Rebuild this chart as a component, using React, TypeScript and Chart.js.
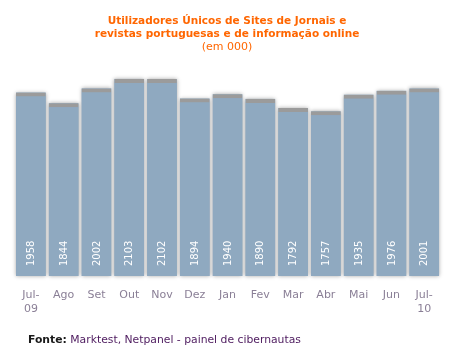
import React, { useEffect, useRef } from "react";
import { Chart, registerables } from "chart.js";

Chart.register(...registerables);

const months: (string | string[])[] = [["Jul-", "09"], "Ago", "Set", "Out", "Nov", "Dez", "Jan", "Fev", "Mar", "Abr", "Mai", "Jun", ["Jul-", "10"]];
const visitors: number[] = [1958, 1844, 2002, 2103, 2102, 1894, 1940, 1890, 1792, 1757, 1935, 1976, 2001];
const titleLines: string[] = ["Utilizadores Únicos de Sites de Jornais e", "revistas portuguesas e de informação online"];
const subtitleText = "(em 000)";
const sourceLabel = "Fonte:";
const sourceText = " Marktest, Netpanel - painel de cibernautas";

const BAR_COLOR = "#8fa9c0";
const CAP_COLOR = "#9b9b9b";
const ORANGE = "#ff6600";

const decorPlugin = {
  id: "decor",
  beforeDatasetsDraw(chart: any) {
    const ctx = chart.ctx;
    const meta = chart.getDatasetMeta(0);
    ctx.save();
    ctx.shadowColor = "rgba(0,0,0,0.35)";
    ctx.shadowBlur = 4;
    ctx.fillStyle = BAR_COLOR;
    meta.data.forEach((el: any) => {
      const p = el.getProps(["x", "y", "base", "width"], true);
      ctx.fillRect(p.x - p.width / 2, p.y, p.width, p.base - p.y);
    });
    ctx.restore();
  },
  afterDatasetsDraw(chart: any) {
    const ctx = chart.ctx;
    const meta = chart.getDatasetMeta(0);
    ctx.save();
    ctx.fillStyle = "#ffffff";
    ctx.font = "10px 'DejaVu Sans'";
    ctx.textAlign = "left";
    ctx.textBaseline = "middle";
    meta.data.forEach((el: any, i: number) => {
      const p = el.getProps(["x", "base"], true);
      ctx.save();
      ctx.translate(p.x + 0.5, p.base - 10);
      ctx.rotate(-Math.PI / 2);
      ctx.fillText(String(visitors[i]), 0, 0);
      ctx.restore();
    });
    ctx.restore();
  },
  afterDraw(chart: any) {
    const ctx = chart.ctx;
    const cx = 227;
    ctx.save();
    ctx.fillStyle = ORANGE;
    ctx.textAlign = "center";
    ctx.textBaseline = "alphabetic";
    ctx.font = "bold 10.5px 'DejaVu Sans'";
    ctx.fillText(titleLines[0], cx, 24);
    ctx.fillText(titleLines[1], cx, 37);
    ctx.font = "11px 'DejaVu Sans'";
    ctx.fillText(subtitleText, cx, 50);
    // source line
    ctx.textAlign = "left";
    ctx.font = "bold 10.8px 'DejaVu Sans'";
    const x0 = 28;
    const y0 = 343;
    ctx.fillStyle = "#1a1a1a";
    ctx.fillText(sourceLabel, x0, y0);
    const w = ctx.measureText(sourceLabel).width;
    ctx.font = "10.8px 'DejaVu Sans'";
    ctx.fillStyle = "#4d1a5e";
    ctx.fillText(sourceText, x0 + w, y0);
    ctx.restore();
  },
};

export default function App() {
  const ref = useRef<HTMLCanvasElement>(null);
  useEffect(() => {
    if (!ref.current) return;
    const chart = new Chart(ref.current, {
      type: "bar",
      data: {
        labels: months,
        datasets: [
          {
            data: visitors,
            backgroundColor: BAR_COLOR,
            borderColor: CAP_COLOR,
            borderWidth: { top: 4, left: 0, right: 0, bottom: 0 },
            borderSkipped: "bottom",
            barPercentage: 0.906,
            categoryPercentage: 1,
          },
        ],
      },
      options: {
        animation: false,
        responsive: false,
        maintainAspectRatio: false,
        layout: { padding: { left: 14.5, right: 16.4, top: 60, bottom: 0 } },
        plugins: {
          legend: { display: false },
          title: { display: false },
          tooltip: { enabled: false },
        },
        scales: {
          x: {
            grid: { display: false, drawTicks: false },
            border: { display: false },
            ticks: {
              color: "#8a7f96",
              font: { family: "'DejaVu Sans'", size: 11, lineHeight: 14 / 11 },
              padding: 12,
              maxRotation: 0,
              autoSkip: false,
            },
            afterFit: (s: any) => {
              s.height = 82;
            },
          },
          y: {
            display: false,
            min: 0,
            max: 2305,
          },
        },
      },
      plugins: [decorPlugin],
    });
    return () => chart.destroy();
  }, []);
  return (
    <div style={{ position: "fixed", left: 0, top: 0, width: 457, height: 358, background: "#fff" }}>
      <canvas ref={ref} width={457} height={358} style={{ width: 457, height: 358, display: "block" }} />
    </div>
  );
}
